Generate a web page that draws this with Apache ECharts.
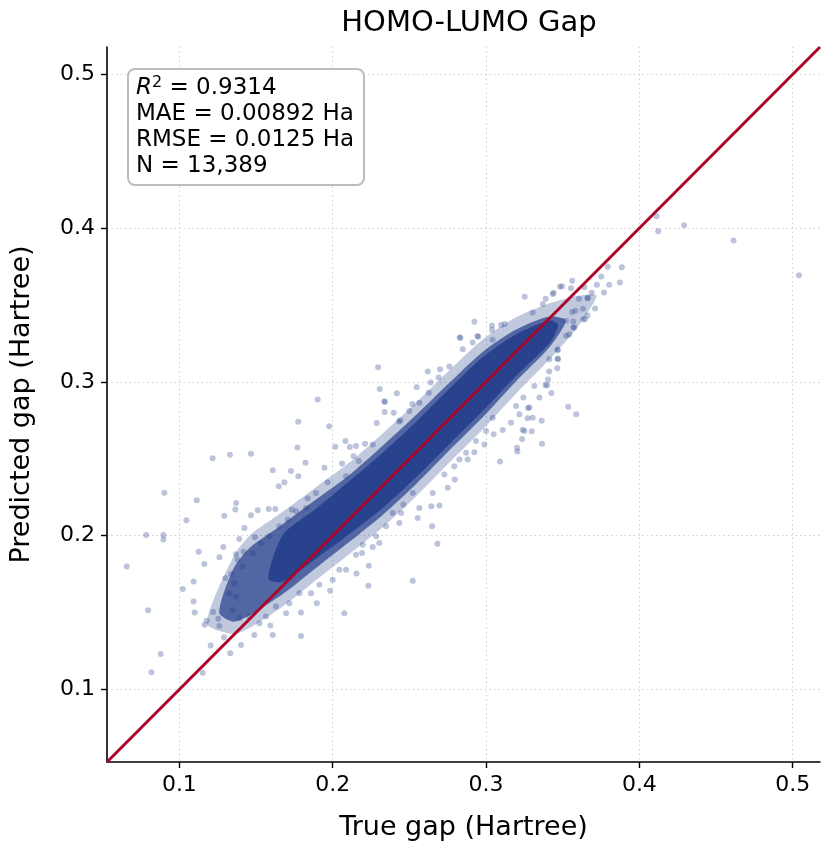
<!DOCTYPE html>
<html>
<head>
<meta charset="utf-8">
<script src="https://cdn.jsdelivr.net/npm/echarts@6/dist/echarts.min.js"></script>
<style>
  html, body { margin: 0; padding: 0; background: #fff; }
  #chart { width: 831px; height: 852px; }
</style>
</head>
<body>
<div id="chart"></div>
<script>
// 坐标范围 / 刻度
var lims = [0.0528, 0.5178];
var tickValues = [0.1, 0.2, 0.3, 0.4, 0.5];

// 统计量
var statR2 = "0.9314";
var statMAE = "0.00892";
var statRMSE = "0.0125";
var statN = "13,389";

// 密集区域轮廓 (从图上读出, 上沿 -> 下沿)
var bandHalo = [
  [0.118, 0.143], [0.135, 0.186], [0.1457, 0.200], [0.1674, 0.2155], [0.1891, 0.2315],
  [0.2109, 0.2475], [0.2326, 0.2665], [0.2543, 0.2865], [0.2761, 0.3075], [0.2978, 0.3275],
  [0.3196, 0.3420], [0.3413, 0.3510], [0.360, 0.356], [0.372, 0.356],
  [0.360, 0.336], [0.3413, 0.3145], [0.3196, 0.2925], [0.2978, 0.2690], [0.2761, 0.2475],
  [0.2543, 0.2255], [0.2326, 0.2055], [0.2109, 0.1880], [0.1891, 0.1710], [0.1674, 0.1540],
  [0.1457, 0.1400], [0.135, 0.1360]
];
var bandOuter = [
  [0.126, 0.150], [0.135, 0.178], [0.1457, 0.192], [0.1674, 0.2075], [0.1891, 0.2235],
  [0.2109, 0.2395], [0.2326, 0.2585], [0.2543, 0.2785], [0.2761, 0.2995], [0.2978, 0.3195],
  [0.3196, 0.3340], [0.3413, 0.3425], [0.352, 0.340],
  [0.3413, 0.3225], [0.3196, 0.3005], [0.2978, 0.2770], [0.2761, 0.2555], [0.2543, 0.2335],
  [0.2326, 0.2135], [0.2109, 0.1960], [0.1891, 0.1790], [0.1674, 0.1620], [0.1457, 0.1480],
  [0.135, 0.1440]
];
var bandInner = [
  [0.158, 0.172], [0.1674, 0.2005], [0.1891, 0.2175], [0.2109, 0.2355], [0.2326, 0.2540],
  [0.2543, 0.2740], [0.2761, 0.2955], [0.2978, 0.3160], [0.3196, 0.3310], [0.3413, 0.3400],
  [0.347, 0.337],
  [0.3413, 0.3250], [0.3196, 0.3040], [0.2978, 0.2810], [0.2761, 0.2595], [0.2543, 0.2380],
  [0.2326, 0.2180], [0.2109, 0.2010], [0.1891, 0.1850], [0.1674, 0.1700]
];

// 离散点 [真实值, 预测值]
var farOutliers = [
  [0.0657, 0.1799], [0.0783, 0.2005], [0.0896, 0.2005], [0.0896, 0.1975], [0.0902, 0.2279],
  [0.0796, 0.1515], [0.0818, 0.1111], [0.0878, 0.1230], [0.1046, 0.2101], [0.1113, 0.2231],
  [0.1022, 0.1653], [0.1093, 0.1702], [0.1093, 0.1571], [0.1100, 0.1500], [0.1152, 0.1109],
  [0.1126, 0.1895], [0.1217, 0.2503], [0.1330, 0.2527], [0.1467, 0.2533], [0.1775, 0.2741],
  [0.1977, 0.2711], [0.1902, 0.2885], [0.2296, 0.3096], [0.2307, 0.2954], [0.4112, 0.4077],
  [0.4123, 0.3979], [0.4292, 0.4018], [0.4614, 0.3919], [0.5041, 0.3693], [0.3536, 0.2839],
  [0.3588, 0.2789], [0.2522, 0.1707], [0.2683, 0.1948]
];
var lowFringe = [
  [0.1165, 0.1420], [0.1178, 0.1446], [0.1204, 0.1285], [0.1220, 0.1504], [0.1254, 0.1460],
  [0.1261, 0.1412], [0.1291, 0.1339], [0.1332, 0.1235], [0.1402, 0.1289], [0.1163, 0.1815],
  [0.1261, 0.1859], [0.1287, 0.1926], [0.1293, 0.2130], [0.1365, 0.2170], [0.1370, 0.2213],
  [0.1300, 0.1724], [0.1337, 0.1750], [0.1391, 0.1978], [0.1380, 0.1843], [0.1369, 0.1879],
  [0.1419, 0.1895], [0.1424, 0.2050], [0.1493, 0.1990], [0.1467, 0.2133], [0.1511, 0.2165],
  [0.1583, 0.2174], [0.1626, 0.2174], [0.1734, 0.2168], [0.1648, 0.2322], [0.1685, 0.2348],
  [0.1609, 0.2426], [0.1728, 0.2420], [0.1776, 0.2387], [0.1822, 0.2474], [0.1770, 0.2574],
  [0.1837, 0.2241], [0.1891, 0.2278], [0.1946, 0.2441], [0.1967, 0.2348], [0.1489, 0.1354],
  [0.1609, 0.1354], [0.1593, 0.1415], [0.1793, 0.1348], [0.1793, 0.1500], [0.1896, 0.1561],
  [0.1983, 0.1641], [0.2000, 0.1713], [0.1522, 0.1430], [0.1457, 0.1474], [0.1391, 0.1463],
  [0.1348, 0.1517], [0.1370, 0.1604], [0.1326, 0.1626], [0.1359, 0.1691], [0.1413, 0.1800],
  [0.1478, 0.1887], [0.1533, 0.1952], [0.1587, 0.1996], [0.1652, 0.2061], [0.1707, 0.2104],
  [0.1761, 0.2159], [0.1826, 0.2180], [0.1565, 0.1474], [0.1630, 0.1539], [0.1696, 0.1496],
  [0.1717, 0.1561], [0.1783, 0.1626], [0.1859, 0.1626], [0.1913, 0.1680]
];
var midFringe = [
  [0.2017, 0.2578], [0.2083, 0.2615], [0.2061, 0.2470], [0.2112, 0.2577], [0.2152, 0.2583],
  [0.2211, 0.2598], [0.2261, 0.2593], [0.2137, 0.2517], [0.2087, 0.2387], [0.2170, 0.2485],
  [0.2339, 0.2870], [0.2339, 0.2804], [0.2398, 0.2800], [0.2287, 0.2733], [0.2433, 0.2743],
  [0.2418, 0.2926], [0.2338, 0.2874], [0.2520, 0.2857], [0.2548, 0.2965], [0.2639, 0.2996],
  [0.2620, 0.3067], [0.2700, 0.3083], [0.2833, 0.3285], [0.2950, 0.3293], [0.2924, 0.3391],
  [0.2828, 0.3291], [0.2943, 0.3298], [0.2441, 0.2750], [0.2500, 0.2811], [0.2565, 0.2865],
  [0.2626, 0.2930], [0.2691, 0.3028], [0.2761, 0.3100], [0.2848, 0.3213], [0.2913, 0.3257],
  [0.2076, 0.1496], [0.2155, 0.1754], [0.2235, 0.1804], [0.2233, 0.1675], [0.2191, 0.1887],
  [0.2152, 0.1876], [0.2261, 0.1926], [0.2304, 0.1952], [0.2391, 0.2148], [0.2435, 0.2083],
  [0.2461, 0.2202], [0.2554, 0.2115], [0.2643, 0.2191], [0.2696, 0.2196], [0.2648, 0.2061],
  [0.2750, 0.2311], [0.2728, 0.2398], [0.2796, 0.2365], [0.2826, 0.2496], [0.2870, 0.2539],
  [0.2924, 0.2543], [0.2989, 0.2593], [0.2087, 0.1778], [0.2043, 0.1778], [0.2196, 0.1941],
  [0.2283, 0.1996], [0.2348, 0.2061], [0.2446, 0.2148], [0.2522, 0.2278], [0.2565, 0.2180],
  [0.2652, 0.2278], [0.2793, 0.2452], [0.2880, 0.2496], [0.2935, 0.2615]
];
var highFringe = [
  [0.3043, 0.3274], [0.3039, 0.3367], [0.3039, 0.3337], [0.3098, 0.3370], [0.3122, 0.3376],
  [0.3252, 0.3554], [0.3304, 0.3452], [0.3370, 0.3507], [0.3435, 0.3572], [0.3389, 0.3541],
  [0.3441, 0.3580], [0.3482, 0.3619], [0.3496, 0.3622], [0.3554, 0.3609], [0.3562, 0.3658],
  [0.3641, 0.3615], [0.3663, 0.3546], [0.3606, 0.3541], [0.3662, 0.3545], [0.3689, 0.3580],
  [0.3723, 0.3632], [0.3769, 0.3582], [0.3751, 0.3686], [0.3793, 0.3749], [0.3803, 0.3632],
  [0.3873, 0.3647], [0.3886, 0.3745], [0.3711, 0.3478], [0.3646, 0.3409], [0.3632, 0.3476],
  [0.3662, 0.3432], [0.3634, 0.3406], [0.3583, 0.3463], [0.3562, 0.3454], [0.3576, 0.3354],
  [0.3569, 0.3393], [0.3569, 0.3354], [0.3522, 0.3398], [0.3522, 0.3300], [0.3543, 0.3308],
  [0.3467, 0.3213], [0.3467, 0.3152], [0.3469, 0.3147], [0.3467, 0.3204], [0.3413, 0.3148],
  [0.3465, 0.3089], [0.3412, 0.3067], [0.3398, 0.2978], [0.3404, 0.3015], [0.3387, 0.2980],
  [0.3426, 0.2928], [0.3348, 0.2898], [0.3315, 0.2974], [0.3363, 0.2748], [0.3365, 0.2598],
  [0.3298, 0.2679], [0.3235, 0.2629], [0.3239, 0.2689], [0.3204, 0.2548], [0.3091, 0.2483],
  [0.3271, 0.2763], [0.3274, 0.2831], [0.3304, 0.2767], [0.3283, 0.2833], [0.3217, 0.2789],
  [0.3250, 0.2680], [0.3202, 0.2572], [0.3243, 0.2898], [0.3196, 0.2843], [0.3163, 0.2735],
  [0.3109, 0.2687], [0.3050, 0.2659], [0.3043, 0.2767], [0.3000, 0.2680]
];

var pointColor = "#223c8a";
var font = "DejaVu Sans";

function bandSeries(points, alpha) {
  return {
    type: "custom",
    coordinateSystem: "cartesian2d",
    silent: true,
    clip: true,
    z: 2,
    data: [points[0]],
    renderItem: function (params, api) {
      return {
        type: "polygon",
        shape: { points: points.map(function (p) { return api.coord(p); }), smooth: 0.25 },
        style: { fill: pointColor, opacity: alpha },
      };
    },
  };
}

var axisCommon = {
  type: "value",
  min: lims[0],
  max: lims[1],
  axisLine: { show: true, onZero: false, lineStyle: { color: "#000", width: 1.6 } },
  axisTick: { show: true, customValues: tickValues, length: 6, lineStyle: { color: "#000", width: 1.4 } },
  axisLabel: {
    customValues: tickValues,
    formatter: function (v) { return v.toFixed(1); },
    fontSize: 22,
    color: "#000",
    fontFamily: font,
    margin: 12,
  },
  splitLine: { show: true, lineStyle: { type: [1.5, 3], color: "#cfcfcf", width: 1 } },
  nameLocation: "middle",
  nameTextStyle: { fontSize: 27, color: "#000", fontFamily: font },
};

var chart = echarts.init(document.getElementById("chart"));
chart.setOption({
  animation: false,
  backgroundColor: "#fff",
  title: {
    text: "HOMO-LUMO Gap",
    left: 464,
    top: 4,
    textAlign: "center",
    textStyle: { fontSize: 29, fontWeight: "normal", color: "#000", fontFamily: font },
  },
  grid: { left: 107, right: 11, top: 47, bottom: 90 },
  xAxis: Object.assign({}, axisCommon, { name: "True gap (Hartree)", nameGap: 52 }),
  yAxis: Object.assign({}, axisCommon, { name: "Predicted gap (Hartree)", nameGap: 72 }),
  series: [
    bandSeries(bandHalo, 0.28),
    bandSeries(bandOuter, 0.7),
    bandSeries(bandInner, 0.85),
    {
      type: "scatter",
      data: farOutliers.concat(lowFringe, midFringe, highFringe),
      symbolSize: 6,
      itemStyle: { color: pointColor, opacity: 0.3 },
      silent: true,
      z: 3,
    },
    {
      type: "line",
      data: [[lims[0], lims[0]], [lims[1], lims[1]]],
      symbol: "none",
      lineStyle: { color: "#ad0529", width: 3 },
      silent: true,
      z: 5,
    },
  ],
  graphic: [
    {
      type: "rect",
      left: 127,
      top: 68,
      z: 100,
      shape: { width: 236, height: 116, r: 7 },
      style: { fill: "#fff", stroke: "#bdbdbd", lineWidth: 2 },
    },
    {
      type: "text",
      left: 136,
      top: 75,
      z: 101,
      style: {
        text:
          "{i|R}{s|2}{t| = " + statR2 + "}\n" +
          "{t|MAE = " + statMAE + " Ha}\n" +
          "{t|RMSE = " + statRMSE + " Ha}\n" +
          "{t|N = " + statN + "}",
        fill: "#000",
        rich: {
          t: { fontSize: 23, fontFamily: font, lineHeight: 26, fill: "#000" },
          i: { fontSize: 23, fontFamily: font, fontStyle: "italic", lineHeight: 26, fill: "#000" },
          s: { fontSize: 16, fontFamily: font, lineHeight: 26, verticalAlign: "top", fill: "#000" },
        },
      },
    },
  ],
});
</script>
</body>
</html>
